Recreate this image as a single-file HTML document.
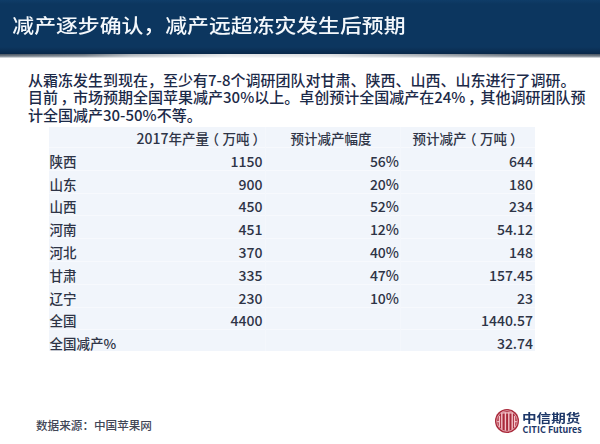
<!DOCTYPE html>
<html><head><meta charset="utf-8">
<style>
*{margin:0;padding:0;box-sizing:border-box}
html,body{width:600px;height:444px;overflow:hidden;background:#fff}
body{position:relative;font-family:"Liberation Sans","Noto Sans CJK SC",sans-serif;color:#2b3245}
#wrap{position:absolute;left:0;top:0;width:600px;height:444px}
#hdr{position:absolute;left:0;top:0;width:600px;height:54px;background:linear-gradient(#0f3c68 0,#0c365f 4px,#0c365f 47px,#09294b 53.5px)}
#shadow{position:absolute;left:0;top:54px;width:600px;height:4px;background:linear-gradient(#45515e,#77818b 55%,#c3c8cd 85%,#fff);-webkit-mask-image:linear-gradient(to right,#000 0%,rgba(0,0,0,.85) 14%,rgba(0,0,0,.45) 22%,rgba(0,0,0,.15) 38%,rgba(0,0,0,.2) 55%,rgba(0,0,0,.5) 70%,rgba(0,0,0,.85) 85%,#000 100%);mask-image:linear-gradient(to right,#000 0%,rgba(0,0,0,.85) 14%,rgba(0,0,0,.45) 22%,rgba(0,0,0,.15) 38%,rgba(0,0,0,.2) 55%,rgba(0,0,0,.5) 70%,rgba(0,0,0,.85) 85%,#000 100%)}
#title{position:absolute;left:12.3px;top:9.8px;font-size:21.85px;line-height:30px;font-weight:500;color:#f4f8fc;transform:scaleY(0.89);transform-origin:0 16.85px;font-family:"Noto Sans CJK SC",sans-serif;white-space:nowrap}
#para{position:absolute;left:28px;top:71.2px;font-size:15px;line-height:17.2px;font-weight:500;color:#1c2a48;white-space:nowrap;font-family:"Noto Sans CJK SC",sans-serif}
#para i{font-style:normal}
#para b.cm{font-weight:inherit;position:relative;left:2.5px}
.lp{position:relative;left:-3.5px}
.rp{position:relative;left:3px}
#tbl{position:absolute;left:48.5px;top:127px;width:486px;height:224px;background:#f1f5fb}
.hl{position:absolute;left:0;width:486px;height:1px;background:#f7f9fd}
.vl{position:absolute;top:0;width:1px;height:224px;background:#f4f7fc}
.row{position:absolute;left:0;width:486px;height:22.8px;font-size:13.5px;line-height:22.8px;font-weight:500;font-family:"Noto Sans CJK SC",sans-serif;color:#2e3446}
.row>span{position:absolute;white-space:nowrap;top:0}
.row i{font-style:normal;font-size:14px}
.c1{left:1px}
.c2{right:272px}
.c3{right:135.5px}
.c4{right:1.5px}
.h2{left:88px}
.h3{left:242px}
.h4{left:364px}
#src{position:absolute;left:36px;top:416.5px;font-size:11.6px;line-height:16px;color:#414656;font-weight:500;font-family:"Noto Sans CJK SC",sans-serif;white-space:nowrap}
#logo{position:absolute;left:494.5px;top:409px}
#lcn{position:absolute;left:522px;top:410px;font-size:14.6px;line-height:18px;transform:scaleY(0.84);transform-origin:0 4px;font-weight:700;color:#1d3768;font-family:"Noto Sans CJK SC",sans-serif;white-space:nowrap}
#len{position:absolute;left:522.5px;top:425px;font-size:9px;line-height:10px;font-weight:700;color:#1d3768;font-family:"Noto Sans CJK SC",sans-serif;white-space:nowrap}
</style></head><body><div id="wrap">
<div id="hdr"></div>
<div id="shadow"></div>
<div id="title">减产逐步确认，减产远超冻灾发生后预期</div>
<div id="para">从霜冻发生到现在，至少有<i>7-8</i>个调研团队对甘肃、陕西、山西、山东进行了调研。<br>目前<b class="cm">，</b>市场预期全国苹果减产<i>30%</i>以上。卓创预计全国减产在<i>24%</i><b class="cm">，</b>其他调研团队预<br>计全国减产<i>30-50%</i>不等。</div>
<div id="tbl">
<div class="hl" style="top:20.0px"></div><div class="hl" style="top:42.8px"></div><div class="hl" style="top:65.6px"></div><div class="hl" style="top:88.4px"></div><div class="hl" style="top:111.2px"></div><div class="hl" style="top:134.0px"></div><div class="hl" style="top:156.8px"></div><div class="hl" style="top:179.6px"></div><div class="hl" style="top:202.4px"></div><div class="vl" style="left:216px"></div><div class="vl" style="left:351px"></div>
<div class="row" style="top:0px"><span class="h2"><i>2017</i>年产量<span class="lp">（</span>万吨<span class="rp">）</span></span><span class="h3">预计减产幅度</span><span class="h4">预计减产<span class="lp">（</span>万吨<span class="rp">）</span></span></div>
<div class="row" style="top:22.8px"><span class="c1">陕西</span><span class="c2"><i>1150</i></span><span class="c3"><i>56%</i></span><span class="c4"><i>644</i></span></div>
<div class="row" style="top:45.6px"><span class="c1">山东</span><span class="c2"><i>900</i></span><span class="c3"><i>20%</i></span><span class="c4"><i>180</i></span></div>
<div class="row" style="top:68.4px"><span class="c1">山西</span><span class="c2"><i>450</i></span><span class="c3"><i>52%</i></span><span class="c4"><i>234</i></span></div>
<div class="row" style="top:91.2px"><span class="c1">河南</span><span class="c2"><i>451</i></span><span class="c3"><i>12%</i></span><span class="c4"><i>54.12</i></span></div>
<div class="row" style="top:114px"><span class="c1">河北</span><span class="c2"><i>370</i></span><span class="c3"><i>40%</i></span><span class="c4"><i>148</i></span></div>
<div class="row" style="top:136.8px"><span class="c1">甘肃</span><span class="c2"><i>335</i></span><span class="c3"><i>47%</i></span><span class="c4"><i>157.45</i></span></div>
<div class="row" style="top:159.6px"><span class="c1">辽宁</span><span class="c2"><i>230</i></span><span class="c3"><i>10%</i></span><span class="c4"><i>23</i></span></div>
<div class="row" style="top:182.4px"><span class="c1">全国</span><span class="c2"><i>4400</i></span><span class="c4"><i>1440.57</i></span></div>
<div class="row" style="top:205.2px"><span class="c1">全国减产%</span><span class="c4"><i>32.74</i></span></div>
</div>
<div id="src">数据来源：中国苹果网</div>
<div id="logo">
<svg width="24" height="24" viewBox="0 0 24 24">
<defs><clipPath id="cp"><circle cx="12" cy="12" r="9.9"/></clipPath></defs>
<circle cx="12" cy="12" r="12" fill="#a92a3b"/>
<circle cx="12" cy="12" r="10.3" fill="none" stroke="#e9aab3" stroke-width="0.9"/>
<g fill="none" stroke="#f3c4ca" stroke-width="1.4" clip-path="url(#cp)">
<path d="M6.2 3.9 H17.8"/>
<path d="M6.8 3.4 V22 M10.4 3.4 V22 M13.8 3.4 V22 M17.2 3.4 V22"/>
<path d="M4.4 6.8 V18.2 M19.6 6.8 V18.2"/>
<path d="M1.5 12.6 H4.8 M19.2 12.6 H22.5"/>
</g>
</svg>
</div>
<div id="lcn">中信期货</div>
<div id="len">CITIC Futures</div>
</div></body></html>
